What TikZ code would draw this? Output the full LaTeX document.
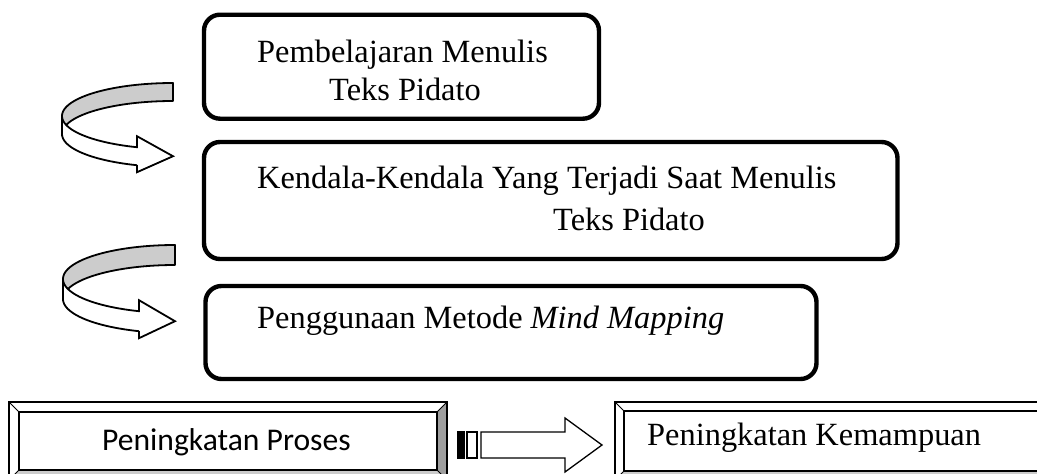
\documentclass[tikz,border=0pt]{standalone}
\usepackage{fontspec}
\setmainfont{Liberation Serif}
\newfontfamily\calibrifont{Carlito}
\usetikzlibrary{calc}

\definecolor{ribbongray}{gray}{0.80}
\definecolor{bevelside}{gray}{0.62}
\definecolor{bevelfloor}{gray}{0.80}

% U-turn ribbon arrow: #1,#2 = centre of the ellipse, #3,#4 = radii, #5 = ribbon thickness
\newcommand{\ribbonarrow}[5]{%
  \begin{scope}[shift={(#1,#2)}]
    \pgfmathsetmacro\endang{acos(-36/#3)}
    \pgfmathsetmacro\endy{#4*sin(\endang)}
    % inner (grey) face seen behind
    \draw[ribbonback]
      plot[domain=270:180, samples=50] ({#3*cos(\x)},{#4*sin(\x)})
      -- plot[domain=180:270, samples=50] ({#3*cos(\x)},{#4*sin(\x)+#5})
      -- cycle;
    % outer (white) face with arrow head
    \draw[ribbonfront]
      plot[domain=180:\endang, samples=50] ({#3*cos(\x)},{#4*sin(\x)})
      -- (-36,{\endy-11}) -- (0,{\endy+#5/2}) -- (-36,{\endy+#5+7})
      -- (-36,{\endy+#5})
      -- plot[domain=\endang:180, samples=50] ({#3*cos(\x)},{#4*sin(\x)+#5})
      -- cycle;
  \end{scope}}

% bevelled frame around a named rectangular node: #1 = node, #2 = bevel width
\newcommand{\bevelframe}[2]{%
  \coordinate (#1-iw) at ($(#1.north west)+(#2,#2)$);
  \coordinate (#1-ie) at ($(#1.north east)+(-#2,#2)$);
  \coordinate (#1-is) at ($(#1.south east)+(-#2,-#2)$);
  \coordinate (#1-ix) at ($(#1.south west)+(#2,-#2)$);
  \fill[bevelside] (#1.north east) -- (#1.south east) -- (#1-is) -- (#1-ie) -- cycle;
  \fill[bevelfloor] (#1.south west) -- (#1.south east) -- (#1-is) -- (#1-ix) -- cycle;
  \draw[bevelline] (#1.north west) rectangle (#1.south east);
  \draw[bevelline] (#1-iw) rectangle (#1-is);
  \draw[bevelline, line width=1pt] (#1.north west) -- (#1-iw);
  \draw[bevelline, line width=1pt] (#1.north east) -- (#1-ie);
  \draw[bevelline, line width=1pt] (#1.south west) -- (#1-ix);
  \draw[bevelline, line width=1pt] (#1.south east) -- (#1-is);}

\tikzset{
  stagebox/.style={draw=black, line width=4.4pt, rounded corners=16pt, inner sep=0pt},
  bevelouter/.style={inner sep=0pt, fill=white},
  bevelline/.style={draw=black, line width=1.6pt},
  serifbig/.style={font=\fontsize{32.4}{38}\selectfont, inner sep=0pt, anchor=base west},
  sansbig/.style={font=\calibrifont\fontsize{31.6}{38}\selectfont, inner sep=0pt, anchor=base west},
  ribbonback/.style={fill=ribbongray, draw=black, line width=1.8pt, line join=round},
  ribbonfront/.style={fill=white, draw=black, line width=1.8pt, line join=miter},
  blockarrow/.style={draw=black, line width=1.3pt, fill=white, line join=miter},
}

\begin{document}
\begin{tikzpicture}[x=1pt, y=-1pt]
  \useasboundingbox (0,0) rectangle (1037,474);
  \clip (0,0) rectangle (1037,474);

  % stage boxes
  \node[stagebox, minimum width=395pt, minimum height=104pt] (learn) at (401.5,66.7) {};
  \node[stagebox, minimum width=693.5pt, minimum height=117pt] (obstacle) at (550.75,200.5) {};
  \node[stagebox, minimum width=611pt, minimum height=93pt] (method) at (511,332.5) {};

  \node[serifbig] (learn1) at (257,62) {Pembelajaran Menulis};
  \node[serifbig] (learn2) at (329,100) {Teks Pidato};
  \node[serifbig] (obst1) at (257,188) {Kendala-Kendala Yang Terjadi Saat Menulis};
  \node[serifbig] (obst2) at (553,230) {Teks Pidato};
  \node[serifbig] (meth1) at (257,328) {Penggunaan Metode \textit{Mind Mapping}};

  % turning arrows between the stages
  \ribbonarrow{173}{116}{111}{33}{18}
  \ribbonarrow{175}{279}{112}{34}{20}

  % result boxes
  \node[bevelouter, minimum width=438pt, minimum height=78pt] (process) at (228,441) {};
  \bevelframe{process}{10}
  \node[bevelouter, minimum width=445pt, minimum height=78pt] (ability) at (837.5,441) {};
  \bevelframe{ability}{9}

  \node[sansbig] (proctext) at (102,450) {Peningkatan Proses};
  \node[serifbig] (abiltext) at (647,445) {Peningkatan Kemampuan};

  % striped block arrow from process to ability
  \draw[draw=black, line width=1.3pt, fill=black] (458,432) rectangle (464,458);
  \draw[blockarrow] (467,432) rectangle (477,458);
  \draw[blockarrow] (481,432) -- (565,432) -- (565,418) -- (602,445)
    -- (565,472) -- (565,458) -- (481,458) -- cycle;
\end{tikzpicture}
\end{document}
